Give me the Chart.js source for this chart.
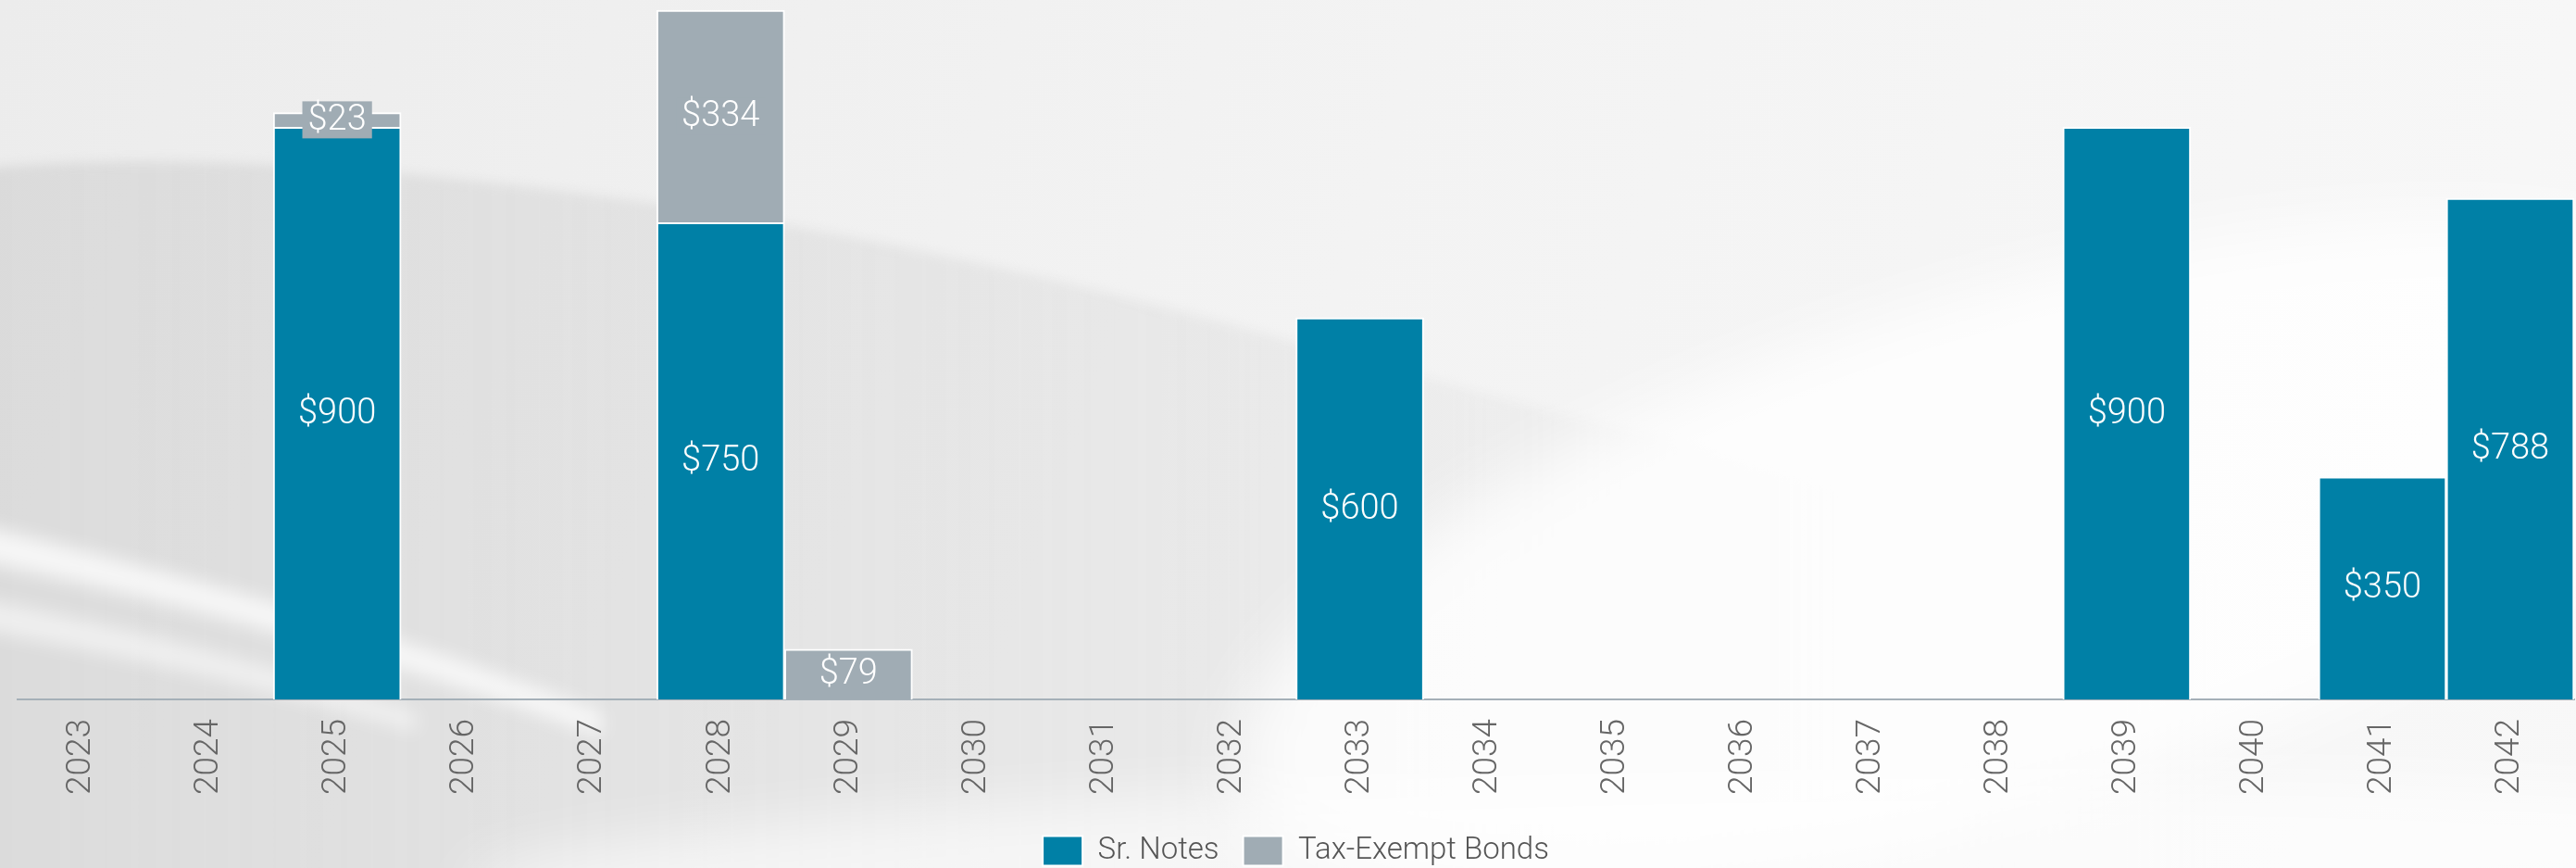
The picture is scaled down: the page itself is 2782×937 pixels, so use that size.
<!DOCTYPE html>
<html>
<head>
<meta charset="utf-8">
<script src="https://cdn.jsdelivr.net/npm/chart.js@4"></script>
<style>
  html, body { margin: 0; padding: 0; background: #eeeeee; }
  #wrap { width: 2782px; height: 937px; position: relative; }
</style>
</head>
<body>
<div id="wrap"><canvas id="debtChart" width="2782" height="937"></canvas></div>
<script>
const years = ['2023', '2024', '2025', '2026', '2027', '2028', '2029', '2030', '2031', '2032',
  '2033', '2034', '2035', '2036', '2037', '2038', '2039', '2040', '2041', '2042'];
const srNotes = [null, null, 900, null, null, 750, null, null, null, null,
  600, null, null, null, null, null, 900, null, 350, 788];
const taxExempt = [null, null, 23, null, null, 334, 79, null, null, null,
  null, null, null, null, null, null, null, null, null, null];

const tealColor = '#0080a6';
const greyColor = '#a0acb4';

// background swooshes, painted behind everything
const backdrop = {
  id: 'backdrop',
  beforeDraw(chart) {
    const c = chart.ctx, w = chart.width, h = chart.height;
    c.save();
    let g = c.createLinearGradient(0, 0, w, h);
    g.addColorStop(0, '#ececec');
    g.addColorStop(0.5, '#f3f3f3');
    g.addColorStop(1, '#f8f8f8');
    c.fillStyle = g;
    c.fillRect(0, 0, w, h);

    // darker area under the big curve
    c.filter = 'blur(6px)';
    let g2 = c.createLinearGradient(0, 0, 2400, 0);
    g2.addColorStop(0, 'rgba(205,205,205,0.55)');
    g2.addColorStop(0.55, 'rgba(215,215,215,0.35)');
    g2.addColorStop(1, 'rgba(230,230,230,0)');
    c.fillStyle = g2;
    c.beginPath();
    c.moveTo(-50, 185);
    c.bezierCurveTo(250, 150, 800, 200, 1400, 370);
    c.bezierCurveTo(1800, 480, 2200, 580, 2850, 720);
    c.lineTo(2850, 1000);
    c.lineTo(-50, 1000);
    c.closePath();
    c.fill();

    c.filter = 'blur(35px)';
    // light area lower right
    c.fillStyle = 'rgba(255,255,255,0.8)';
    c.beginPath();
    c.ellipse(2150, 600, 850, 280, -0.3, 0, Math.PI * 2);
    c.fill();

    c.filter = 'blur(10px)';
    // white streaks bottom left
    c.fillStyle = 'rgba(255,255,255,0.75)';
    c.beginPath();
    c.moveTo(-50, 560);
    c.bezierCurveTo(200, 620, 450, 690, 650, 770);
    c.lineTo(650, 795);
    c.bezierCurveTo(450, 720, 200, 650, -50, 600);
    c.closePath();
    c.fill();
    c.fillStyle = 'rgba(255,255,255,0.55)';
    c.beginPath();
    c.moveTo(-50, 640);
    c.bezierCurveTo(150, 680, 300, 720, 450, 770);
    c.lineTo(450, 790);
    c.bezierCurveTo(300, 745, 150, 710, -50, 675);
    c.closePath();
    c.fill();

    c.filter = 'blur(30px)';
    // light band near bottom
    c.fillStyle = 'rgba(255,255,255,0.6)';
    c.beginPath();
    c.ellipse(1800, 930, 1300, 90, -0.02, 0, Math.PI * 2);
    c.fill();
    c.restore();
  }
};

// value labels centered in each bar segment
const valueLabels = {
  id: 'valueLabels',
  afterDatasetsDraw(chart) {
    const c = chart.ctx;
    c.save();
    c.font = '300 38px Roboto';
    c.textAlign = 'center';
    c.textBaseline = 'middle';
    chart.data.datasets.forEach((ds, di) => {
      const meta = chart.getDatasetMeta(di);
      meta.data.forEach((el, i) => {
        const v = ds.data[i];
        if (!v) return;
        const txt = '$' + v;
        const x = el.x;
        const y = (el.y + el.base) / 2;
        if (di === 1) {
          const tw = c.measureText(txt).width;
          c.fillStyle = greyColor;
          c.fillRect(x - tw / 2 - 6, y - 20, tw + 12, 40);
        }
        c.fillStyle = '#ffffff';
        c.fillText(txt, x, y + 1);
      });
    });
    c.restore();
  }
};

new Chart(document.getElementById('debtChart'), {
  type: 'bar',
  data: {
    labels: years,
    datasets: [
      {
        label: 'Sr. Notes',
        data: srNotes,
        backgroundColor: tealColor,
        borderColor: '#ffffff',
        borderWidth: 2,
        borderSkipped: 'bottom'
      },
      {
        label: 'Tax-Exempt Bonds',
        data: taxExempt,
        backgroundColor: greyColor,
        borderColor: '#ffffff',
        borderWidth: 2,
        borderSkipped: 'bottom'
      }
    ]
  },
  options: {
    responsive: false,
    animation: false,
    layout: { padding: { left: 19, right: 2, top: 0, bottom: -8 } },
    datasets: {
      bar: { barPercentage: 1, categoryPercentage: 1 }
    },
    plugins: {
      legend: {
        position: 'bottom',
        labels: {
          font: { family: 'Roboto', weight: '300', size: 33 },
          color: '#555555',
          boxWidth: 43,
          boxHeight: 32,
          padding: 26
        }
      },
      tooltip: { enabled: false }
    },
    scales: {
      x: {
        stacked: true,
        grid: { display: false },
        border: { display: true, color: '#a5b0b8', width: 2 },
        afterFit(scale) { scale.height = 121; },
        ticks: {
          minRotation: 90,
          maxRotation: 90,
          padding: 13,
          color: '#666666',
          font: { family: 'Roboto', weight: '300', size: 37 }
        }
      },
      y: {
        stacked: true,
        display: false,
        min: 0,
        max: 1100
      }
    }
  },
  plugins: [backdrop, valueLabels]
});
</script>
</body>
</html>
